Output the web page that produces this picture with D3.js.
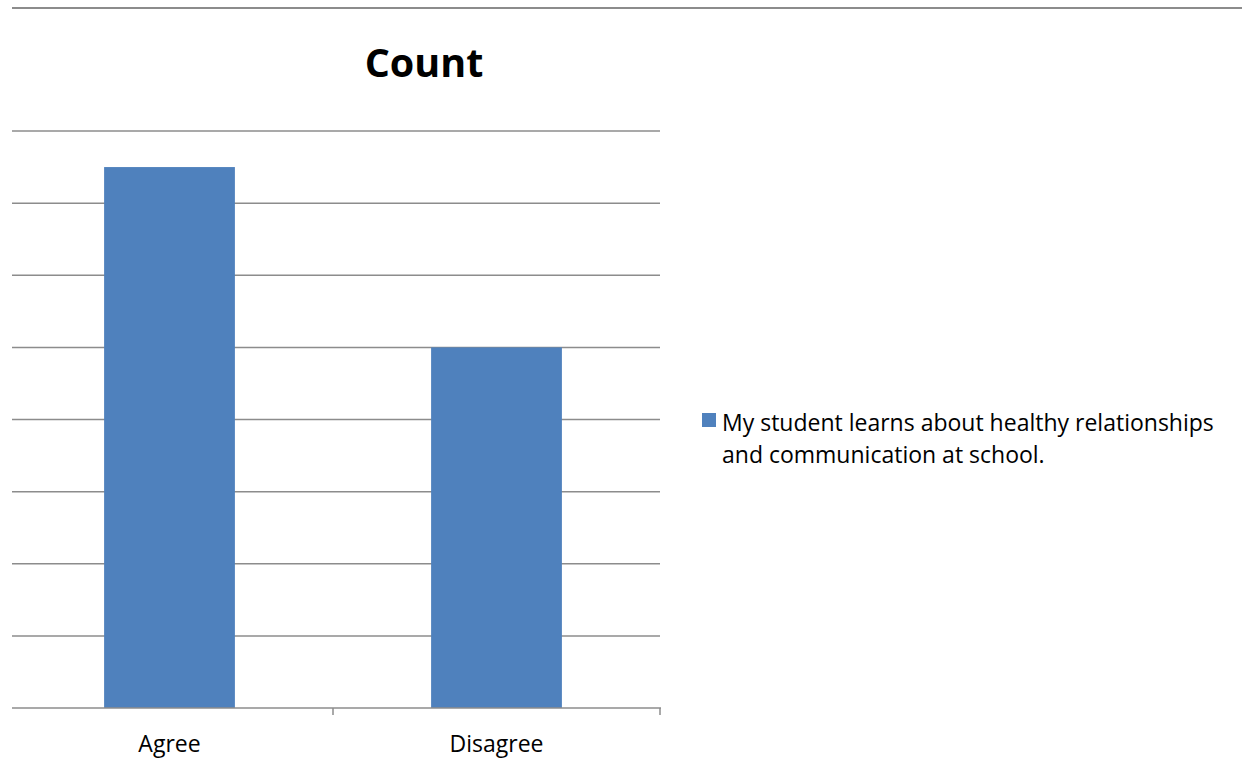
<!DOCTYPE html>
<html>
<head>
<meta charset="utf-8">
<script src="https://cdn.jsdelivr.net/npm/d3@7"></script>
<style>
  body { margin: 0; background: #fff; }
  text { font-family: "Open Sans", "Noto Sans", sans-serif; fill: #000; }
</style>
</head>
<body>
<script>
// chart data
var categories = ["Agree", "Disagree"];
var counts = [15, 10];
var seriesName = "My student learns about healthy relationships and communication at school.";
var legendLines = ["My student learns about healthy relationships", "and communication at school."];
var yTicks = [0, 2, 4, 6, 8, 10, 12, 14, 16];

var width = 1242;
var height = 778;
var plotLeft = 6, gridLeft = 12, plotRight = 660, plotTop = 131, plotBottom = 708;
var barColor = "#4F81BD";
var gridColor = "#8c8c8c";

var svg = d3.select("body")
            .append("svg")
            .attr("width", width)
            .attr("height", height);

// top border line
svg.append("line")
   .attr("x1", 12).attr("x2", width)
   .attr("y1", 8).attr("y2", 8)
   .attr("stroke", gridColor)
   .attr("stroke-width", 2);

var xScale = d3.scaleBand()
               .domain(categories)
               .range([plotLeft, plotRight]);

var yScale = d3.scaleLinear()
               .domain([0, 16])
               .range([plotBottom, plotTop]);

// gridlines
svg.append("g")
   .selectAll("line")
   .data(yTicks.slice(1))
   .enter()
   .append("line")
   .attr("x1", gridLeft)
   .attr("x2", plotRight)
   .attr("y1", function(d) { return yScale(d); })
   .attr("y2", function(d) { return yScale(d); })
   .attr("stroke", gridColor)
   .attr("stroke-width", 1.5);

// bars
var barWidth = xScale.bandwidth() * 0.4;
svg.selectAll("rect.bar")
   .data(counts)
   .enter()
   .append("rect")
   .attr("class", "bar")
   .attr("x", function(d, i) { return xScale(categories[i]) + (xScale.bandwidth() - barWidth) / 2; })
   .attr("y", function(d) { return yScale(d); })
   .attr("width", barWidth)
   .attr("height", function(d) { return yScale(0) - yScale(d); })
   .attr("fill", barColor);

// x axis
svg.append("line")
   .attr("x1", gridLeft).attr("x2", plotRight + 1)
   .attr("y1", plotBottom).attr("y2", plotBottom)
   .attr("stroke", gridColor)
   .attr("stroke-width", 1.5);

var tickPos = categories.map(function(c) { return xScale(c) + xScale.bandwidth(); });
svg.selectAll("line.tick")
   .data(tickPos)
   .enter()
   .append("line")
   .attr("class", "tick")
   .attr("x1", function(d) { return d; })
   .attr("x2", function(d) { return d; })
   .attr("y1", plotBottom)
   .attr("y2", plotBottom + 7)
   .attr("stroke", gridColor)
   .attr("stroke-width", 1.5);

svg.selectAll("text.xlabel")
   .data(categories)
   .enter()
   .append("text")
   .attr("class", "xlabel")
   .attr("x", function(d) { return xScale(d) + xScale.bandwidth() / 2; })
   .attr("y", 752)
   .attr("text-anchor", "middle")
   .style("font-size", "23px")
   .text(function(d) { return d; });

// title
svg.append("text")
   .attr("x", 424)
   .attr("y", 77)
   .attr("text-anchor", "middle")
   .style("font-size", "39.5px")
   .style("font-weight", "bold")
   .text("Count");

// legend
var legend = svg.append("g").attr("transform", "translate(702,413)");
legend.append("rect")
      .attr("width", 14)
      .attr("height", 14)
      .attr("fill", barColor);
legend.append("title").text(seriesName);
legend.selectAll("text")
      .data(legendLines)
      .enter()
      .append("text")
      .attr("x", 20)
      .attr("y", function(d, i) { return 18 + i * 32; })
      .style("font-size", "23px")
      .text(function(d) { return d; });
</script>
</body>
</html>
